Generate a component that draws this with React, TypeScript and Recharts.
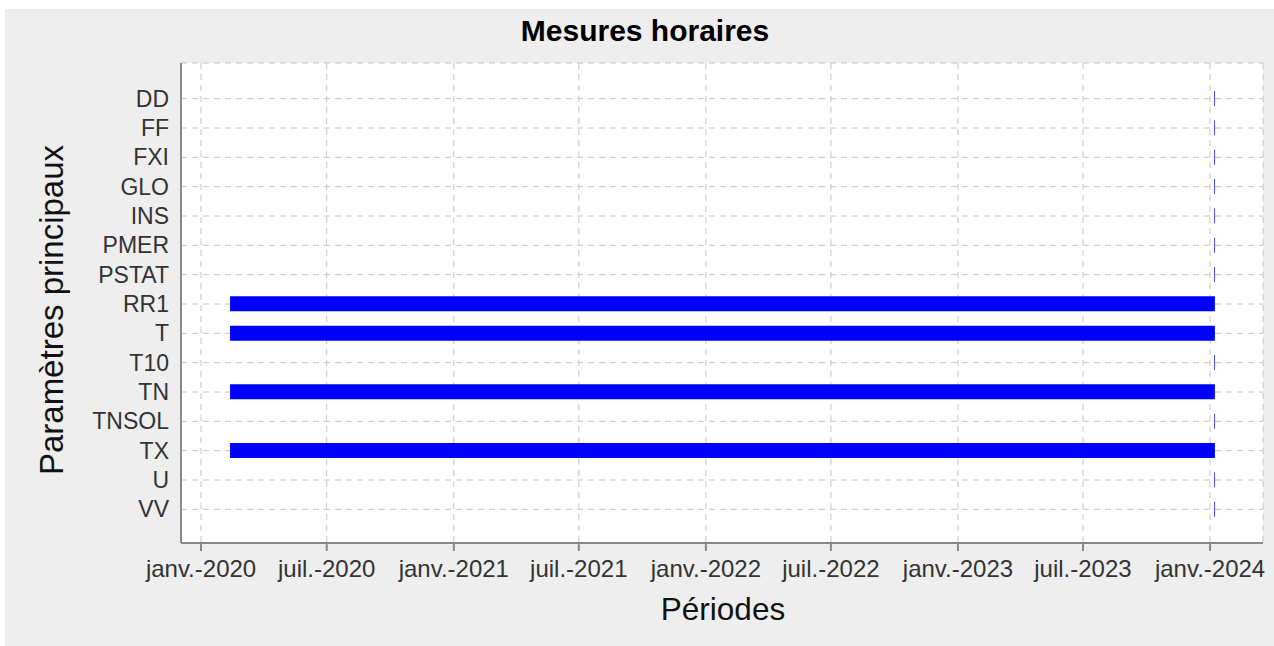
import React from 'react';
import { BarChart, Bar, XAxis, YAxis, CartesianGrid } from 'recharts';

const categories = ['DD', 'FF', 'FXI', 'GLO', 'INS', 'PMER', 'PSTAT', 'RR1', 'T', 'T10', 'TN', 'TNSOL', 'TX', 'U', 'VV'];
const periodStarts = ['2024-01-07', '2024-01-07', '2024-01-07', '2024-01-07', '2024-01-07', '2024-01-07', '2024-01-07', '2020-02-12', '2020-02-12', '2024-01-07', '2020-02-12', '2024-01-07', '2020-02-12', '2024-01-07', '2024-01-07'];
const periodEnds = ['2024-01-08', '2024-01-08', '2024-01-08', '2024-01-08', '2024-01-08', '2024-01-08', '2024-01-08', '2024-01-08', '2024-01-08', '2024-01-08', '2024-01-08', '2024-01-08', '2024-01-08', '2024-01-08', '2024-01-08'];
const tickDates = ['2020-01-01', '2020-07-01', '2021-01-01', '2021-07-01', '2022-01-01', '2022-07-01', '2023-01-01', '2023-07-01', '2024-01-01'];
const tickLabels = ['janv.-2020', 'juil.-2020', 'janv.-2021', 'juil.-2021', 'janv.-2022', 'juil.-2022', 'janv.-2023', 'juil.-2023', 'janv.-2024'];
const domainStart = '2019-12-03T00:00:00Z';
const domainEnd = '2024-03-17T16:00:00Z';

const title = 'Mesures horaires';
const xTitle = 'Périodes';
const yTitle = 'Paramètres principaux';

const toMs = (d: string) => Date.parse(d.length === 10 ? d + 'T00:00:00Z' : d);

const data = categories.map((name, i) => ({
  name,
  range: [toMs(periodStarts[i]), toMs(periodEnds[i])],
}));
const ticks = tickDates.map(toMs);
const domain: [number, number] = [toMs(domainStart), toMs(domainEnd)];

const FONT = '"Liberation Sans", Arial, sans-serif';

export default function App() {
  return (
    <div style={{ position: 'absolute', left: 0, top: 0, width: 1274, height: 646 }}>
      <div style={{ position: 'absolute', left: 5, top: 9, width: 1269, height: 637, background: '#eeeeee' }} />
      <div style={{ position: 'absolute', left: 0, top: 0 }}>
        <BarChart
          width={1274}
          height={646}
          data={data}
          layout="vertical"
          margin={{ top: 63, right: 11, bottom: 43, left: 0 }}
          barCategoryGap={0}
        >
          <CartesianGrid stroke="#c4c4c4" strokeDasharray="6 5" fill="#ffffff" />
          <XAxis
            type="number"
            domain={domain}
            allowDataOverflow
            ticks={ticks}
            tickFormatter={(v: number) => tickLabels[ticks.indexOf(v)] ?? ''}
            height={60}
            interval={0}
            tickSize={8}
            tickMargin={9}
            tickLine={{ stroke: '#888888', strokeWidth: 2 }}
            axisLine={{ stroke: '#888888', strokeWidth: 2 }}
            tick={{ fill: '#333333', fontSize: 24, fontFamily: FONT }}
          />
          <XAxis
            xAxisId="top"
            orientation="top"
            type="number"
            domain={domain}
            height={0}
            tick={false}
            tickLine={false}
            axisLine={{ stroke: '#999999', strokeWidth: 2 }}
          />
          <YAxis
            type="category"
            dataKey="name"
            width={181}
            interval={0}
            padding={{ top: 21, bottom: 19 }}
            tickLine={false}
            tickSize={0}
            tickMargin={12}
            axisLine={{ stroke: '#888888', strokeWidth: 2 }}
            tick={{ fill: '#333333', fontSize: 23, fontFamily: FONT }}
          />
          <YAxis
            yAxisId="right"
            orientation="right"
            type="number"
            domain={[0, 1]}
            width={0}
            tick={false}
            tickLine={false}
            axisLine={{ stroke: '#999999', strokeWidth: 2 }}
          />
          <Bar dataKey="range" fill="#0000ff" barSize={15} isAnimationActive={false} />
        </BarChart>
      </div>
      <svg width={1274} height={646} style={{ position: 'absolute', left: 0, top: 0, pointerEvents: 'none' }}>
        <text x={645} y={41} textAnchor="middle" fontFamily={FONT} fontWeight="bold" fontSize={30} fill="#000000">
          {title}
        </text>
        <text x={723} y={620} textAnchor="middle" fontFamily={FONT} fontSize={31.5} fill="#111111">
          {xTitle}
        </text>
        <text x={63} y={310} textAnchor="middle" fontFamily={FONT} fontSize={33} fill="#111111" transform="rotate(-90 63 310)">
          {yTitle}
        </text>
      </svg>
    </div>
  );
}
